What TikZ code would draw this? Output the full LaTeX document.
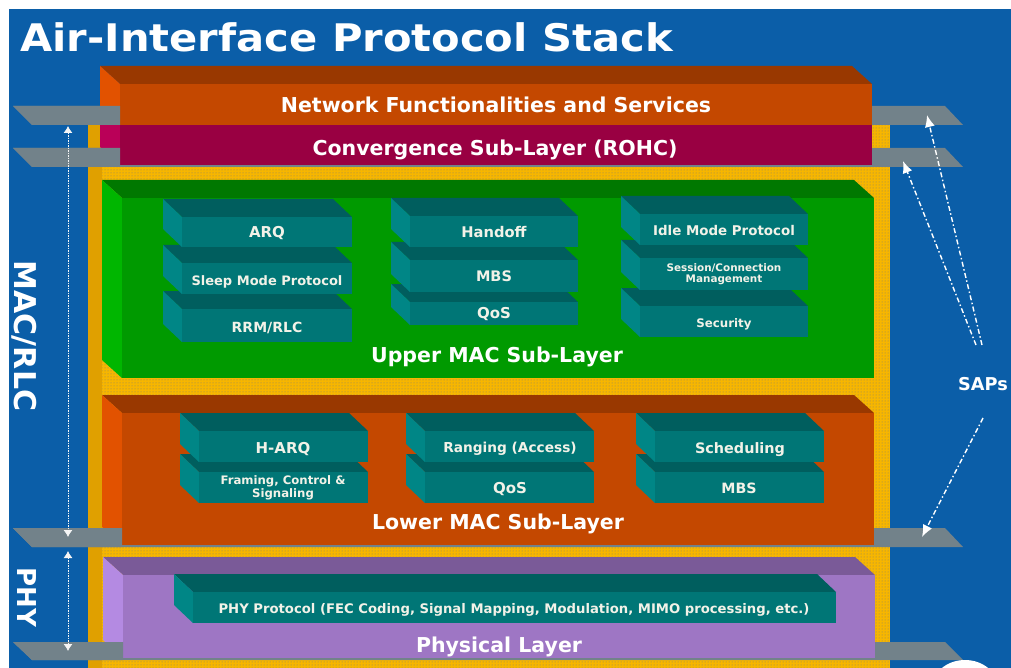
\documentclass[tikz,border=0pt]{standalone}
\usepackage{fontspec}
\setmainfont{DejaVu Sans}
\usetikzlibrary{patterns,arrows.meta}

\definecolor{panel}{HTML}{0B5EA8}
\definecolor{gold}{HTML}{F7B600}
\definecolor{golddark}{HTML}{E0A000}
\definecolor{dotc}{HTML}{7C8078}
\definecolor{plate}{HTML}{72828A}
\definecolor{orgfront}{HTML}{C44800}
\definecolor{orgtop}{HTML}{993800}
\definecolor{orgleft}{HTML}{E25200}
\definecolor{crmfront}{HTML}{990042}
\definecolor{crmtop}{HTML}{770033}
\definecolor{crmleft}{HTML}{BA0058}
\definecolor{grnfront}{HTML}{009A00}
\definecolor{grntop}{HTML}{007800}
\definecolor{grnleft}{HTML}{00B600}
\definecolor{viofront}{HTML}{9E76C4}
\definecolor{viotop}{HTML}{7A5A98}
\definecolor{violeft}{HTML}{B48AE2}
\definecolor{tealfront}{HTML}{007676}
\definecolor{tealtop}{HTML}{005E5E}
\definecolor{tealleft}{HTML}{008686}
\definecolor{unittext}{HTML}{F2F2E8}

\newcommand\fs[1]{\fontsize{#1}{#1}\selectfont}
\newcommand\bdx{20}
\newcommand\bdy{18}
% solid block: front face (#1,#2)-(#3,#4), top and left faces receding up-left
\newcommand\block[5]{%
  \fill[#5top] ({#1-\bdx},{#2-\bdy}) -- ({#3-\bdx},{#2-\bdy}) -- (#3,#2) -- (#1,#2) -- cycle;
  \fill[#5left] ({#1-\bdx},{#2-\bdy}) -- (#1,#2) -- (#1,#4) -- ({#1-\bdx},{#4-\bdy}) -- cycle;
  \fill[#5front] (#1,#2) rectangle (#3,#4);}

\tikzset{
  titletext/.style={text=white, font=\bfseries\fs{38}, anchor=base west, inner sep=0},
  layer/.style={text=white, font=\bfseries\fs{20.5}, anchor=base, inner sep=0},
  unit/.style={text=unittext, font=\bfseries\fs{15}, anchor=base, inner sep=0},
  side/.style={text=white, font=\bfseries\fs{30}, rotate=-90, inner sep=0},
  sapline/.style={white, line width=1.4pt, dash pattern=on 5pt off 2.5pt on 1.5pt off 2.5pt,
    -{Latex[length=12pt,width=10pt]}},
  spanline/.style={white!92!gray, line width=0.9pt, dash pattern=on 1.5pt off 1pt,
    {Latex[length=7pt,width=9pt]}-{Latex[length=7pt,width=9pt]}}
}

\begin{document}
\begin{tikzpicture}[x=1pt,y=-1pt]
\useasboundingbox (0,0) rectangle (1011,668);
\clip (0,0) rectangle (1011,668);
\fill[white] (0,0) rectangle (1011,668);
\fill[panel] (9,9) rectangle (1011,668);

\node[titletext] (title) at (20,52) {\scalebox{1.096}[1]{Air-Interface Protocol Stack}};

% gold backing frame
\fill[gold] (88,125) rectangle (890,668);
\fill[pattern=dots, pattern color=dotc] (88,125) rectangle (890,668);
\fill[golddark] (88,125) rectangle (102,668);

% service access point planes
\foreach \a/\b in {106/125,148/167,528/547,642/660}
  \fill[plate] (13,\a) -- (945,\a) -- (963,\b) -- (32,\b) -- cycle;

% protocol layers
\block{120}{125}{872}{165}{crm}
\block{120}{84}{872}{125}{org}
\block{122}{198}{874}{378}{grn}
\block{122}{413}{874}{545}{org}
\block{123}{575}{875}{658}{vio}

% planes pass in front of the side faces
\foreach \a/\b/\c in {106/125/120,148/167/120,528/547/122,642/660/123}
  \fill[plate] (13,\a) -- (\c,\a) -- (\c,\b) -- (32,\b) -- cycle;

% functional units
\renewcommand\bdx{19}\renewcommand\bdy{18}
\block{182}{309}{352}{342}{teal}
\block{182}{263}{352}{294}{teal}
\block{182}{217}{352}{247}{teal}
\block{410}{302}{578}{325}{teal}
\block{410}{260}{578}{292}{teal}
\block{410}{216}{578}{247}{teal}
\block{640}{306}{808}{337}{teal}
\block{640}{258}{808}{290}{teal}
\block{640}{214}{808}{245}{teal}
\block{199}{472}{368}{503}{teal}
\block{199}{431}{368}{462}{teal}
\block{425}{472}{594}{503}{teal}
\block{425}{431}{594}{462}{teal}
\block{655}{472}{824}{503}{teal}
\block{655}{431}{824}{462}{teal}
\block{193}{592}{836}{623}{teal}

% layer names
\node[layer] (net) at (496,113) {Network Functionalities and Services};
\node[layer] (conv) at (495,156) {Convergence Sub-Layer (ROHC)};
\node[layer] (umac) at (497,362) {Upper MAC Sub-Layer};
\node[layer] (lmac) at (498,529) {Lower MAC Sub-Layer};
\node[layer] (phy) at (499,652) {Physical Layer};

% unit names
\node[unit] (arq) at (267,237) {ARQ};
\node[unit, font=\bfseries\fs{13}] (sleep) at (267,285) {Sleep Mode Protocol};
\node[unit, font=\bfseries\fs{14}] (rrm) at (267,332) {RRM/RLC};
\node[unit, font=\bfseries\fs{14.7}] (handoff) at (494,237) {Handoff};
\node[unit, font=\bfseries\fs{14.5}] (mbsu) at (494,281) {MBS};
\node[unit] (qosu) at (494,318) {QoS};
\node[unit, font=\bfseries\fs{13.4}] (idle) at (724,236) {Idle Mode Protocol};
\node[unit, anchor=center, align=center, font=\bfseries\fontsize{10.4}{10.6}\selectfont]
  (sess) at (724,274) {Session/Connection\\Management};
\node[unit, font=\bfseries\fs{11.8}] (sec) at (724,327) {Security};
\node[unit] (harq) at (283,453) {H-ARQ};
\node[unit, anchor=center, align=center, font=\bfseries\fontsize{11.7}{13}\selectfont]
  (framing) at (283,488) {Framing, Control \&\\Signaling};
\node[unit, font=\bfseries\fs{13.7}] (ranging) at (510,452) {Ranging (Access)};
\node[unit] (qosl) at (510,493) {QoS};
\node[unit, font=\bfseries\fs{14.4}] (sched) at (740,453) {Scheduling};
\node[unit, font=\bfseries\fs{14.2}] (mbsl) at (739,493) {MBS};
\node[unit, font=\bfseries\fs{13.2}] (phyp) at (514,613)
  {PHY Protocol (FEC Coding, Signal Mapping, Modulation, MIMO processing, etc.)};

% layer groups on the left
\node[side] (macrlc) at (24,336) {MAC/RLC};
\node[side, font=\bfseries\fs{26}] (physide) at (27,597) {PHY};
\coordinate (m1) at (68,126);
\coordinate (m2) at (68,537);
\coordinate (p1) at (68,551);
\coordinate (p2) at (68,651);
\draw[spanline] (m1) -- (m2);
\draw[spanline] (p1) -- (p2);

% SAP pointers
\node[text=white, font=\bfseries\fs{17.7}, anchor=base, inner sep=0] (saps) at (983,390) {SAPs};
\coordinate (s1a) at (982,345);
\coordinate (s1b) at (927,115);
\coordinate (s2a) at (976,345);
\coordinate (s2b) at (903,161);
\coordinate (s3a) at (983,418);
\coordinate (s3b) at (922,537);
\draw[sapline] (s1a) -- (s1b);
\draw[sapline] (s2a) -- (s2b);
\draw[sapline] (s3a) -- (s3b);

% emblem edge in the corner
\fill[white] (965,688) ellipse [x radius=33, y radius=28];
\fill[gray!25] (965,694) ellipse [x radius=24, y radius=24];
\end{tikzpicture}
\end{document}
